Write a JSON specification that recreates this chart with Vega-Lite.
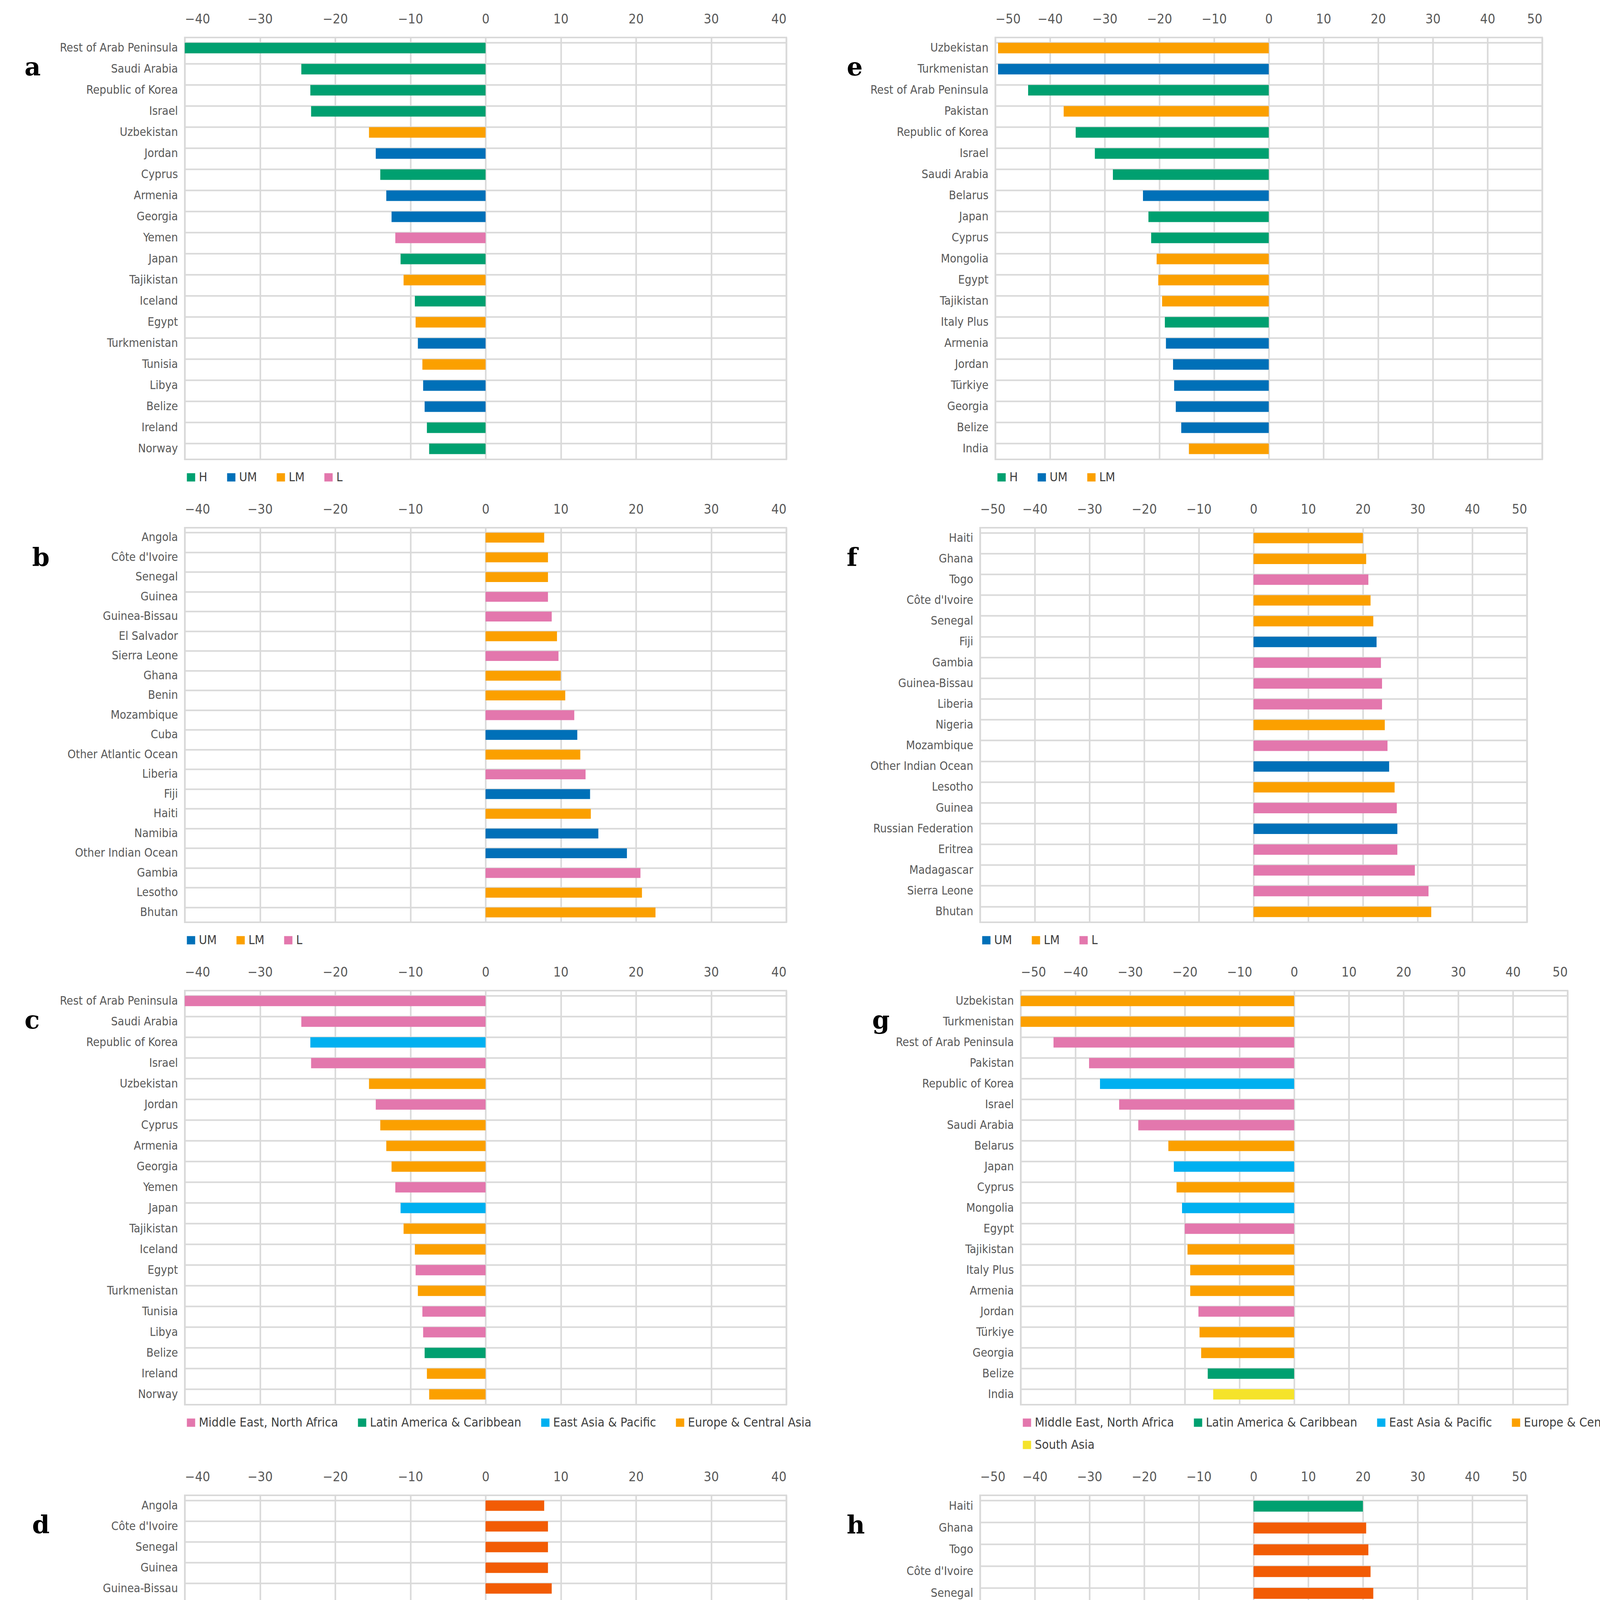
{
  "$schema": "https://vega.github.io/schema/vega-lite/v6.json",
  "background": "white",
  "padding": {"left": 60, "top": 30, "right": 40, "bottom": 10},
  "config": {
    "view": {"stroke": "#d9d9d9", "strokeWidth": 4},
    "font": "DejaVu Sans Condensed",
    "axis": {"labelColor": "#595959", "labelFont": "DejaVu Sans Condensed", "domain": false, "ticks": false, "gridColor": "#d9d9d9", "gridWidth": 4, "labelLimit": 900},
    "axisY": {"labelFontSize": 30, "labelPadding": 18, "grid": true, "bandPosition": 0},
    "axisX": {"labelFontSize": 34, "labelPadding": 30, "grid": true},
    "legend": {"orient": "bottom", "direction": "horizontal", "symbolType": "square", "symbolSize": 450, "labelFontSize": 32, "labelColor": "#404040", "labelFont": "DejaVu Sans Condensed", "columnPadding": 45, "rowPadding": 25, "offset": 30, "labelLimit": 600},
    "title": {"font": "DejaVu Serif", "fontWeight": "bold", "fontSize": 64, "anchor": "start", "frame": "bounds", "color": "black", "offset": -64},
    "concat": {"spacing": 150}
  },
  "datasets": {
    "a": [
      {"c": "Rest of Arab Peninsula", "v": -40, "g": "H"},
      {"c": "Saudi Arabia", "v": -24.5, "g": "H"},
      {"c": "Republic of Korea", "v": -23.3, "g": "H"},
      {"c": "Israel", "v": -23.2, "g": "H"},
      {"c": "Uzbekistan", "v": -15.5, "g": "LM"},
      {"c": "Jordan", "v": -14.6, "g": "UM"},
      {"c": "Cyprus", "v": -14, "g": "H"},
      {"c": "Armenia", "v": -13.2, "g": "UM"},
      {"c": "Georgia", "v": -12.5, "g": "UM"},
      {"c": "Yemen", "v": -12, "g": "L"},
      {"c": "Japan", "v": -11.3, "g": "H"},
      {"c": "Tajikistan", "v": -10.9, "g": "LM"},
      {"c": "Iceland", "v": -9.4, "g": "H"},
      {"c": "Egypt", "v": -9.3, "g": "LM"},
      {"c": "Turkmenistan", "v": -9, "g": "UM"},
      {"c": "Tunisia", "v": -8.4, "g": "LM"},
      {"c": "Libya", "v": -8.3, "g": "UM"},
      {"c": "Belize", "v": -8.1, "g": "UM"},
      {"c": "Ireland", "v": -7.8, "g": "H"},
      {"c": "Norway", "v": -7.5, "g": "H"}
    ],
    "c": [
      {"c": "Rest of Arab Peninsula", "v": -40, "g": "Middle East, North Africa"},
      {"c": "Saudi Arabia", "v": -24.5, "g": "Middle East, North Africa"},
      {"c": "Republic of Korea", "v": -23.3, "g": "East Asia & Pacific"},
      {"c": "Israel", "v": -23.2, "g": "Middle East, North Africa"},
      {"c": "Uzbekistan", "v": -15.5, "g": "Europe & Central Asia"},
      {"c": "Jordan", "v": -14.6, "g": "Middle East, North Africa"},
      {"c": "Cyprus", "v": -14, "g": "Europe & Central Asia"},
      {"c": "Armenia", "v": -13.2, "g": "Europe & Central Asia"},
      {"c": "Georgia", "v": -12.5, "g": "Europe & Central Asia"},
      {"c": "Yemen", "v": -12, "g": "Middle East, North Africa"},
      {"c": "Japan", "v": -11.3, "g": "East Asia & Pacific"},
      {"c": "Tajikistan", "v": -10.9, "g": "Europe & Central Asia"},
      {"c": "Iceland", "v": -9.4, "g": "Europe & Central Asia"},
      {"c": "Egypt", "v": -9.3, "g": "Middle East, North Africa"},
      {"c": "Turkmenistan", "v": -9, "g": "Europe & Central Asia"},
      {"c": "Tunisia", "v": -8.4, "g": "Middle East, North Africa"},
      {"c": "Libya", "v": -8.3, "g": "Middle East, North Africa"},
      {"c": "Belize", "v": -8.1, "g": "Latin America & Caribbean"},
      {"c": "Ireland", "v": -7.8, "g": "Europe & Central Asia"},
      {"c": "Norway", "v": -7.5, "g": "Europe & Central Asia"}
    ],
    "b": [
      {"c": "Angola", "v": 7.8, "g": "LM"},
      {"c": "Côte d'Ivoire", "v": 8.3, "g": "LM"},
      {"c": "Senegal", "v": 8.3, "g": "LM"},
      {"c": "Guinea", "v": 8.3, "g": "L"},
      {"c": "Guinea-Bissau", "v": 8.8, "g": "L"},
      {"c": "El Salvador", "v": 9.5, "g": "LM"},
      {"c": "Sierra Leone", "v": 9.7, "g": "L"},
      {"c": "Ghana", "v": 10, "g": "LM"},
      {"c": "Benin", "v": 10.6, "g": "LM"},
      {"c": "Mozambique", "v": 11.8, "g": "L"},
      {"c": "Cuba", "v": 12.2, "g": "UM"},
      {"c": "Other Atlantic Ocean", "v": 12.6, "g": "LM"},
      {"c": "Liberia", "v": 13.3, "g": "L"},
      {"c": "Fiji", "v": 13.9, "g": "UM"},
      {"c": "Haiti", "v": 14, "g": "LM"},
      {"c": "Namibia", "v": 15, "g": "UM"},
      {"c": "Other Indian Ocean", "v": 18.8, "g": "UM"},
      {"c": "Gambia", "v": 20.6, "g": "L"},
      {"c": "Lesotho", "v": 20.8, "g": "LM"},
      {"c": "Bhutan", "v": 22.6, "g": "LM"}
    ],
    "d": [
      {"c": "Angola", "v": 7.8, "g": "Sub-Saharan Africa"},
      {"c": "Côte d'Ivoire", "v": 8.3, "g": "Sub-Saharan Africa"},
      {"c": "Senegal", "v": 8.3, "g": "Sub-Saharan Africa"},
      {"c": "Guinea", "v": 8.3, "g": "Sub-Saharan Africa"},
      {"c": "Guinea-Bissau", "v": 8.8, "g": "Sub-Saharan Africa"},
      {"c": "El Salvador", "v": 9.5, "g": "Latin America & Caribbean"},
      {"c": "Sierra Leone", "v": 9.7, "g": "Sub-Saharan Africa"},
      {"c": "Ghana", "v": 10, "g": "Sub-Saharan Africa"},
      {"c": "Benin", "v": 10.6, "g": "Sub-Saharan Africa"},
      {"c": "Mozambique", "v": 12, "g": "Sub-Saharan Africa"},
      {"c": "Cuba", "v": 12.3, "g": "Latin America & Caribbean"},
      {"c": "Other Atlantic Ocean", "v": 12.8, "g": "Sub-Saharan Africa"},
      {"c": "Liberia", "v": 13.5, "g": "Sub-Saharan Africa"},
      {"c": "Fiji", "v": 14, "g": "East Asia & Pacific"},
      {"c": "Haiti", "v": 14.2, "g": "Latin America & Caribbean"},
      {"c": "Namibia", "v": 15.3, "g": "Sub-Saharan Africa"},
      {"c": "Other Indian Ocean", "v": 19, "g": "Sub-Saharan Africa"},
      {"c": "Gambia", "v": 20.8, "g": "Sub-Saharan Africa"},
      {"c": "Lesotho", "v": 20.9, "g": "Sub-Saharan Africa"},
      {"c": "Bhutan", "v": 22.8, "g": "South Asia"}
    ],
    "e": [
      {"c": "Uzbekistan", "v": -49.5, "g": "LM"},
      {"c": "Turkmenistan", "v": -49.5, "g": "UM"},
      {"c": "Rest of Arab Peninsula", "v": -44, "g": "H"},
      {"c": "Pakistan", "v": -37.5, "g": "LM"},
      {"c": "Republic of Korea", "v": -35.3, "g": "H"},
      {"c": "Israel", "v": -31.8, "g": "H"},
      {"c": "Saudi Arabia", "v": -28.5, "g": "H"},
      {"c": "Belarus", "v": -23, "g": "UM"},
      {"c": "Japan", "v": -22, "g": "H"},
      {"c": "Cyprus", "v": -21.5, "g": "H"},
      {"c": "Mongolia", "v": -20.5, "g": "LM"},
      {"c": "Egypt", "v": -20.2, "g": "LM"},
      {"c": "Tajikistan", "v": -19.5, "g": "LM"},
      {"c": "Italy Plus", "v": -19, "g": "H"},
      {"c": "Armenia", "v": -18.8, "g": "UM"},
      {"c": "Jordan", "v": -17.5, "g": "UM"},
      {"c": "Türkiye", "v": -17.3, "g": "UM"},
      {"c": "Georgia", "v": -17, "g": "UM"},
      {"c": "Belize", "v": -16, "g": "UM"},
      {"c": "India", "v": -14.6, "g": "LM"}
    ],
    "g": [
      {"c": "Uzbekistan", "v": -50, "g": "Europe & Central Asia"},
      {"c": "Turkmenistan", "v": -50, "g": "Europe & Central Asia"},
      {"c": "Rest of Arab Peninsula", "v": -44, "g": "Middle East, North Africa"},
      {"c": "Pakistan", "v": -37.5, "g": "Middle East, North Africa"},
      {"c": "Republic of Korea", "v": -35.5, "g": "East Asia & Pacific"},
      {"c": "Israel", "v": -32, "g": "Middle East, North Africa"},
      {"c": "Saudi Arabia", "v": -28.5, "g": "Middle East, North Africa"},
      {"c": "Belarus", "v": -23, "g": "Europe & Central Asia"},
      {"c": "Japan", "v": -22, "g": "East Asia & Pacific"},
      {"c": "Cyprus", "v": -21.5, "g": "Europe & Central Asia"},
      {"c": "Mongolia", "v": -20.5, "g": "East Asia & Pacific"},
      {"c": "Egypt", "v": -20, "g": "Middle East, North Africa"},
      {"c": "Tajikistan", "v": -19.5, "g": "Europe & Central Asia"},
      {"c": "Italy Plus", "v": -19, "g": "Europe & Central Asia"},
      {"c": "Armenia", "v": -19, "g": "Europe & Central Asia"},
      {"c": "Jordan", "v": -17.5, "g": "Middle East, North Africa"},
      {"c": "Türkiye", "v": -17.3, "g": "Europe & Central Asia"},
      {"c": "Georgia", "v": -17, "g": "Europe & Central Asia"},
      {"c": "Belize", "v": -15.8, "g": "Latin America & Caribbean"},
      {"c": "India", "v": -14.8, "g": "South Asia"}
    ],
    "f": [
      {"c": "Haiti", "v": 20, "g": "LM"},
      {"c": "Ghana", "v": 20.6, "g": "LM"},
      {"c": "Togo", "v": 21, "g": "L"},
      {"c": "Côte d'Ivoire", "v": 21.4, "g": "LM"},
      {"c": "Senegal", "v": 21.9, "g": "LM"},
      {"c": "Fiji", "v": 22.5, "g": "UM"},
      {"c": "Gambia", "v": 23.3, "g": "L"},
      {"c": "Guinea-Bissau", "v": 23.5, "g": "L"},
      {"c": "Liberia", "v": 23.5, "g": "L"},
      {"c": "Nigeria", "v": 24, "g": "LM"},
      {"c": "Mozambique", "v": 24.5, "g": "L"},
      {"c": "Other Indian Ocean", "v": 24.8, "g": "UM"},
      {"c": "Lesotho", "v": 25.8, "g": "LM"},
      {"c": "Guinea", "v": 26.2, "g": "L"},
      {"c": "Russian Federation", "v": 26.3, "g": "UM"},
      {"c": "Eritrea", "v": 26.3, "g": "L"},
      {"c": "Madagascar", "v": 29.5, "g": "L"},
      {"c": "Sierra Leone", "v": 32, "g": "L"},
      {"c": "Bhutan", "v": 32.5, "g": "LM"}
    ],
    "h": [
      {"c": "Haiti", "v": 20, "g": "Latin America & Caribbean"},
      {"c": "Ghana", "v": 20.6, "g": "Sub-Saharan Africa"},
      {"c": "Togo", "v": 21, "g": "Sub-Saharan Africa"},
      {"c": "Côte d'Ivoire", "v": 21.4, "g": "Sub-Saharan Africa"},
      {"c": "Senegal", "v": 21.9, "g": "Sub-Saharan Africa"},
      {"c": "Fiji", "v": 22.5, "g": "East Asia & Pacific"},
      {"c": "Gambia", "v": 23.3, "g": "Sub-Saharan Africa"},
      {"c": "Guinea-Bissau", "v": 23.5, "g": "Sub-Saharan Africa"},
      {"c": "Liberia", "v": 23.5, "g": "Sub-Saharan Africa"},
      {"c": "Nigeria", "v": 24, "g": "Sub-Saharan Africa"},
      {"c": "Mozambique", "v": 24.5, "g": "Sub-Saharan Africa"},
      {"c": "Other Indian Ocean", "v": 24.8, "g": "Sub-Saharan Africa"},
      {"c": "Lesotho", "v": 25.8, "g": "Sub-Saharan Africa"},
      {"c": "Guinea", "v": 26.2, "g": "Sub-Saharan Africa"},
      {"c": "Russian Federation", "v": 26.3, "g": "Europe & Central Asia"},
      {"c": "Eritrea", "v": 26.3, "g": "Sub-Saharan Africa"},
      {"c": "Madagascar", "v": 29.5, "g": "Sub-Saharan Africa"},
      {"c": "Sierra Leone", "v": 32, "g": "Sub-Saharan Africa"},
      {"c": "Bhutan", "v": 32.5, "g": "South Asia"}
    ]
  },
  "resolve": {"scale": {"color": "independent", "x": "independent", "y": "independent"}, "legend": {"color": "independent"}},
  "spacing": 45,
  "vconcat": [
    {
      "resolve": {"scale": {"color": "independent", "x": "independent", "y": "independent"}, "legend": {"color": "independent"}},
      "hconcat": [
        {
          "width": 1540, "height": 1080, "data": {"name": "a"},
          "title": {"text": "a", "dx": -90, "dy": 110},
          "mark": {"type": "bar"},
          "encoding": {
            "y": {"field": "c", "type": "nominal", "sort": null, "title": null, "scale": {"paddingInner": 0.5, "paddingOuter": 0.25}},
            "x": {"field": "v", "type": "quantitative", "title": null, "scale": {"domain": [-40, 40]}, "axis": {"orient": "top", "values": [-40, -30, -20, -10, 0, 10, 20, 30, 40]}},
            "color": {"field": "g", "type": "nominal", "title": null, "scale": {"domain": ["H", "UM", "LM", "L"], "range": ["#00A070", "#0070B8", "#FBA000", "#E377AD"]}}
          }
        },
        {
          "width": 1400, "height": 1080, "data": {"name": "e"},
          "title": {"text": "e", "dx": -60, "dy": 110},
          "mark": {"type": "bar"},
          "encoding": {
            "y": {"field": "c", "type": "nominal", "sort": null, "title": null, "scale": {"paddingInner": 0.5, "paddingOuter": 0.25}},
            "x": {"field": "v", "type": "quantitative", "title": null, "scale": {"domain": [-50, 50]}, "axis": {"orient": "top", "values": [-50, -40, -30, -20, -10, 0, 10, 20, 30, 40, 50]}},
            "color": {"field": "g", "type": "nominal", "title": null, "scale": {"domain": ["H", "UM", "LM"], "range": ["#00A070", "#0070B8", "#FBA000"]}}
          }
        }
      ]
    },
    {
      "resolve": {"scale": {"color": "independent", "x": "independent", "y": "independent"}, "legend": {"color": "independent"}},
      "hconcat": [
        {
          "width": 1540, "height": 1010, "data": {"name": "b"},
          "title": {"text": "b", "dx": -90, "dy": 110},
          "mark": {"type": "bar"},
          "encoding": {
            "y": {"field": "c", "type": "nominal", "sort": null, "title": null, "scale": {"paddingInner": 0.5, "paddingOuter": 0.25}},
            "x": {"field": "v", "type": "quantitative", "title": null, "scale": {"domain": [-40, 40]}, "axis": {"orient": "top", "values": [-40, -30, -20, -10, 0, 10, 20, 30, 40]}},
            "color": {"field": "g", "type": "nominal", "title": null, "scale": {"domain": ["UM", "LM", "L"], "range": ["#0070B8", "#FBA000", "#E377AD"]}}
          }
        },
        {
          "width": 1400, "height": 1010, "data": {"name": "f"},
          "title": {"text": "f", "dx": -60, "dy": 110},
          "mark": {"type": "bar"},
          "encoding": {
            "y": {"field": "c", "type": "nominal", "sort": null, "title": null, "scale": {"paddingInner": 0.5, "paddingOuter": 0.25}},
            "x": {"field": "v", "type": "quantitative", "title": null, "scale": {"domain": [-50, 50]}, "axis": {"orient": "top", "values": [-50, -40, -30, -20, -10, 0, 10, 20, 30, 40, 50]}},
            "color": {"field": "g", "type": "nominal", "title": null, "scale": {"domain": ["UM", "LM", "L"], "range": ["#0070B8", "#FBA000", "#E377AD"]}}
          }
        }
      ]
    },
    {
      "resolve": {"scale": {"color": "independent", "x": "independent", "y": "independent"}, "legend": {"color": "independent"}},
      "hconcat": [
        {
          "width": 1540, "height": 1060, "data": {"name": "c"},
          "title": {"text": "c", "dx": -90, "dy": 110},
          "mark": {"type": "bar"},
          "encoding": {
            "y": {"field": "c", "type": "nominal", "sort": null, "title": null, "scale": {"paddingInner": 0.5, "paddingOuter": 0.25}},
            "x": {"field": "v", "type": "quantitative", "title": null, "scale": {"domain": [-40, 40]}, "axis": {"orient": "top", "values": [-40, -30, -20, -10, 0, 10, 20, 30, 40]}},
            "color": {"field": "g", "type": "nominal", "title": null, "legend": {"columns": 4}, "scale": {"domain": ["Middle East, North Africa", "Latin America & Caribbean", "East Asia & Pacific", "Europe & Central Asia"], "range": ["#E377AD", "#00A070", "#00B0F0", "#FBA000"]}}
          }
        },
        {
          "width": 1400, "height": 1060, "data": {"name": "g"},
          "title": {"text": "g", "dx": -60, "dy": 110},
          "mark": {"type": "bar"},
          "encoding": {
            "y": {"field": "c", "type": "nominal", "sort": null, "title": null, "scale": {"paddingInner": 0.5, "paddingOuter": 0.25}},
            "x": {"field": "v", "type": "quantitative", "title": null, "scale": {"domain": [-50, 50]}, "axis": {"orient": "top", "values": [-50, -40, -30, -20, -10, 0, 10, 20, 30, 40, 50]}},
            "color": {"field": "g", "type": "nominal", "title": null, "legend": {"columns": 4}, "scale": {"domain": ["Middle East, North Africa", "Latin America & Caribbean", "East Asia & Pacific", "Europe & Central Asia", "South Asia"], "range": ["#E377AD", "#00A070", "#00B0F0", "#FBA000", "#F5E32A"]}}
          }
        }
      ]
    },
    {
      "resolve": {"scale": {"color": "independent", "x": "independent", "y": "independent"}, "legend": {"color": "independent"}},
      "hconcat": [
        {
          "width": 1540, "height": 1060, "data": {"name": "d"},
          "title": {"text": "d", "dx": -90, "dy": 110},
          "mark": {"type": "bar"},
          "encoding": {
            "y": {"field": "c", "type": "nominal", "sort": null, "title": null, "scale": {"paddingInner": 0.5, "paddingOuter": 0.25}},
            "x": {"field": "v", "type": "quantitative", "title": null, "scale": {"domain": [-40, 40]}, "axis": {"orient": "top", "values": [-40, -30, -20, -10, 0, 10, 20, 30, 40]}},
            "color": {"field": "g", "type": "nominal", "title": null, "legend": {"columns": 4}, "scale": {"domain": ["Sub-Saharan Africa", "Latin America & Caribbean", "East Asia & Pacific", "South Asia"], "range": ["#F25C05", "#00A070", "#00B0F0", "#F5E32A"]}}
          }
        },
        {
          "width": 1400, "height": 1060, "data": {"name": "h"},
          "title": {"text": "h", "dx": -60, "dy": 110},
          "mark": {"type": "bar"},
          "encoding": {
            "y": {"field": "c", "type": "nominal", "sort": null, "title": null, "scale": {"paddingInner": 0.5, "paddingOuter": 0.25}},
            "x": {"field": "v", "type": "quantitative", "title": null, "scale": {"domain": [-50, 50]}, "axis": {"orient": "top", "values": [-50, -40, -30, -20, -10, 0, 10, 20, 30, 40, 50]}},
            "color": {"field": "g", "type": "nominal", "title": null, "legend": {"columns": 4}, "scale": {"domain": ["Sub-Saharan Africa", "Latin America & Caribbean", "East Asia & Pacific", "South Asia", "Europe & Central Asia"], "range": ["#F25C05", "#00A070", "#00B0F0", "#F5E32A", "#FBA000"]}}
          }
        }
      ]
    }
  ]
}
